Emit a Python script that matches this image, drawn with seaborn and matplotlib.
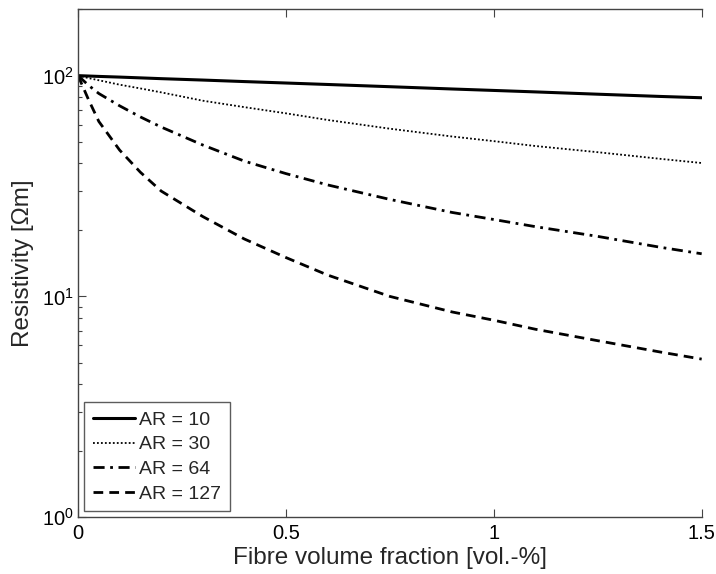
import numpy as np
import pandas as pd
import matplotlib
matplotlib.use("Agg")
import matplotlib.pyplot as plt
import seaborn as sns
from matplotlib.ticker import LogLocator, NullFormatter

# Data
fibre_fraction = [0, 0.025, 0.05, 0.1, 0.15, 0.2, 0.3, 0.4, 0.5, 0.6, 0.75, 0.9, 1.0, 1.1, 1.25, 1.4, 1.5]
res_ar10 = [100, 99.6, 99.2, 98.5, 97.7, 96.9, 95.5, 94.0, 92.6, 91.2, 89.1, 87.0, 85.7, 84.4, 82.4, 80.5, 79.4]
res_ar30 = [100, 97.5, 95.3, 91, 87.5, 84, 77, 72, 67.5, 63, 57.5, 53, 50.5, 48, 45, 42, 40.2]
res_ar64 = [100, 90.5, 83, 73, 65, 58.5, 48.5, 41, 36, 32, 27.5, 24, 22.3, 20.7, 18.7, 16.7, 15.6]
res_ar127 = [100, 78, 62, 46, 36.5, 30, 23, 18.2, 15, 12.5, 10.0, 8.5, 7.8, 7.1, 6.3, 5.6, 5.2]
labels = ["AR = 10", "AR = 30", "AR = 64", "AR = 127"]
x_ticks = [0, 0.5, 1, 1.5]
x_tick_labels = ["0", "0.5", "1", "1.5"]

sns.set_style("ticks")
plt.rcParams["font.family"] = ["Liberation Sans", "DejaVu Sans"]
plt.rcParams["mathtext.fontset"] = "custom"
plt.rcParams["mathtext.rm"] = "Liberation Sans"
plt.rcParams["mathtext.it"] = "Liberation Sans:italic"

fig = plt.figure(figsize=(7.16, 5.74), dpi=100)
ax = fig.add_axes([0.109, 0.099, 0.871, 0.885])

series = [res_ar10, res_ar30, res_ar64, res_ar127]
styles = [
    dict(linestyle="-", linewidth=2.2),
    dict(linestyle=(0, (1.0, 1.2)), linewidth=1.3),
    dict(linestyle=(0, (4.0, 2.0, 1.0, 2.0)), linewidth=2.0),
    dict(linestyle=(0, (3.5, 2.2)), linewidth=2.0),
]
for vals, lab, st in zip(series, labels, styles):
    df = pd.DataFrame({"x": fibre_fraction, "y": vals})
    sns.lineplot(data=df, x="x", y="y", ax=ax, color="black", label=lab, **st)

ax.set_yscale("log")
ax.set_xlim(0, 1.5)
ax.set_ylim(1, 200)
ax.set_xticks(x_ticks)
ax.set_xticklabels(x_tick_labels)
ax.yaxis.set_major_locator(LogLocator(base=10, numticks=5))
ax.yaxis.set_minor_locator(LogLocator(base=10, subs=np.arange(2, 10), numticks=20))
ax.yaxis.set_minor_formatter(NullFormatter())

ax.spines["right"].set_visible(False)
ax.tick_params(which="both", direction="in", top=True, right=False, colors="#444444",
               labelcolor="black", labelsize=14.5)
ax.tick_params(which="major", length=6, width=0.8)
ax.tick_params(which="minor", length=3, width=0.8)
ax.tick_params(axis="x", which="minor", top=False, bottom=False)
for sp in ax.spines.values():
    sp.set_color("#444444")
    sp.set_linewidth(1.0)
ax.tick_params(axis="x", pad=5)
ax.tick_params(axis="y", pad=3)

ax.set_xlabel("Fibre volume fraction [vol.-%]", fontsize=17.5, labelpad=3)
ax.set_ylabel("Resistivity [\u03a9m]", fontsize=17.5, labelpad=6)

leg = ax.legend(loc="lower left", fontsize=14, frameon=True, fancybox=False,
                edgecolor="#333333", borderaxespad=0.3, handlelength=2.2,
                handletextpad=0.2, labelspacing=0.36, borderpad=0.45)
leg.get_frame().set_linewidth(1.0)

fig.savefig("out.png", dpi=100)
